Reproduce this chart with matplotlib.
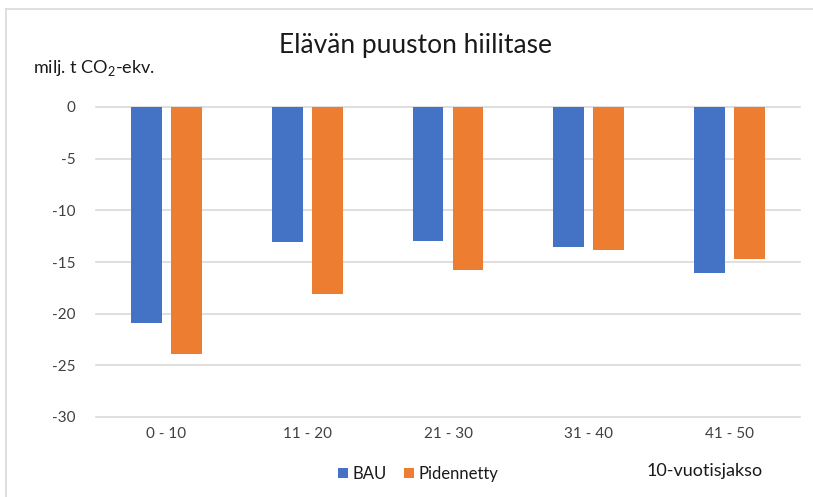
import matplotlib
matplotlib.use("Agg")
import matplotlib.pyplot as plt
import numpy as np

plt.rcParams['font.family'] = ['Lato', 'DejaVu Sans']
plt.rcParams['mathtext.fontset'] = 'custom'
plt.rcParams['mathtext.rm'] = 'Lato'

categories = ["0 - 10", "11 - 20", "21 - 30", "31 - 40", "41 - 50"]
bau = [-20.9, -13.1, -13.0, -13.55, -16.1]
pidennetty = [-23.9, -18.05, -15.8, -13.85, -14.75]
yticks = [0, -5, -10, -15, -20, -25, -30]

blue = "#4472C4"
orange = "#ED7D31"

fig = plt.figure(figsize=(8.13, 4.97), dpi=100)
W, H = 813, 497
ax = fig.add_axes([96 / W, 1 - 417 / H, 704 / W, 310 / H])

x = np.arange(len(categories))
bw = 0.22
off = 0.142
ax.bar(x - off, bau, bw, color=blue, label="BAU", zorder=3)
ax.bar(x + off, pidennetty, bw, color=orange, label="Pidennetty", zorder=3)

ax.set_xlim(-0.5, len(categories) - 0.5)
ax.set_ylim(-30, 0)
ax.set_yticks(yticks)
ax.set_yticklabels([str(v) for v in yticks])
ax.set_xticks(x)
ax.set_xticklabels(categories)
ax.tick_params(axis='both', length=0, labelsize=11, labelcolor="#404040")
ax.tick_params(axis='y', pad=15)
ax.tick_params(axis='x', pad=7)
for s in ax.spines.values():
    s.set_visible(False)
ax.grid(axis='y', color="#D9D9D9", lw=1.2, zorder=0)
ax.set_axisbelow(True)
for t in ax.get_ygridlines():
    t.set_clip_on(False)

fig.text(415 / W, 1 - 45 / H, "Elävän puuston hiilitase", ha='center', va='center',
         fontsize=19, color="#1a1a1a")
fig.text(33 / W, 1 - 68 / H, "milj. t CO$_2$-ekv.", ha='left', va='center',
         fontsize=13, color="#1a1a1a")
fig.text(705 / W, 1 - 471 / H, "10-vuotisjakso", ha='center', va='center',
         fontsize=13, color="#1a1a1a")

leg = fig.legend(loc='center', bbox_to_anchor=(418 / W, 1 - 474 / H), ncol=2,
                 frameon=False, fontsize=12, handlelength=0.6, handleheight=0.6,
                 handletextpad=0.3, columnspacing=1.0)
for t in leg.get_texts():
    t.set_color("#1a1a1a")

fig.add_artist(plt.Line2D([6 / W, 6 / W], [0, 1 - 9 / H], color="#D9D9D9", lw=1.2,
                          transform=fig.transFigure))
fig.add_artist(plt.Line2D([6 / W, 1], [1 - 9 / H, 1 - 9 / H], color="#D9D9D9", lw=1.2,
                          transform=fig.transFigure))

fig.savefig("out.png", dpi=100, facecolor="white")
